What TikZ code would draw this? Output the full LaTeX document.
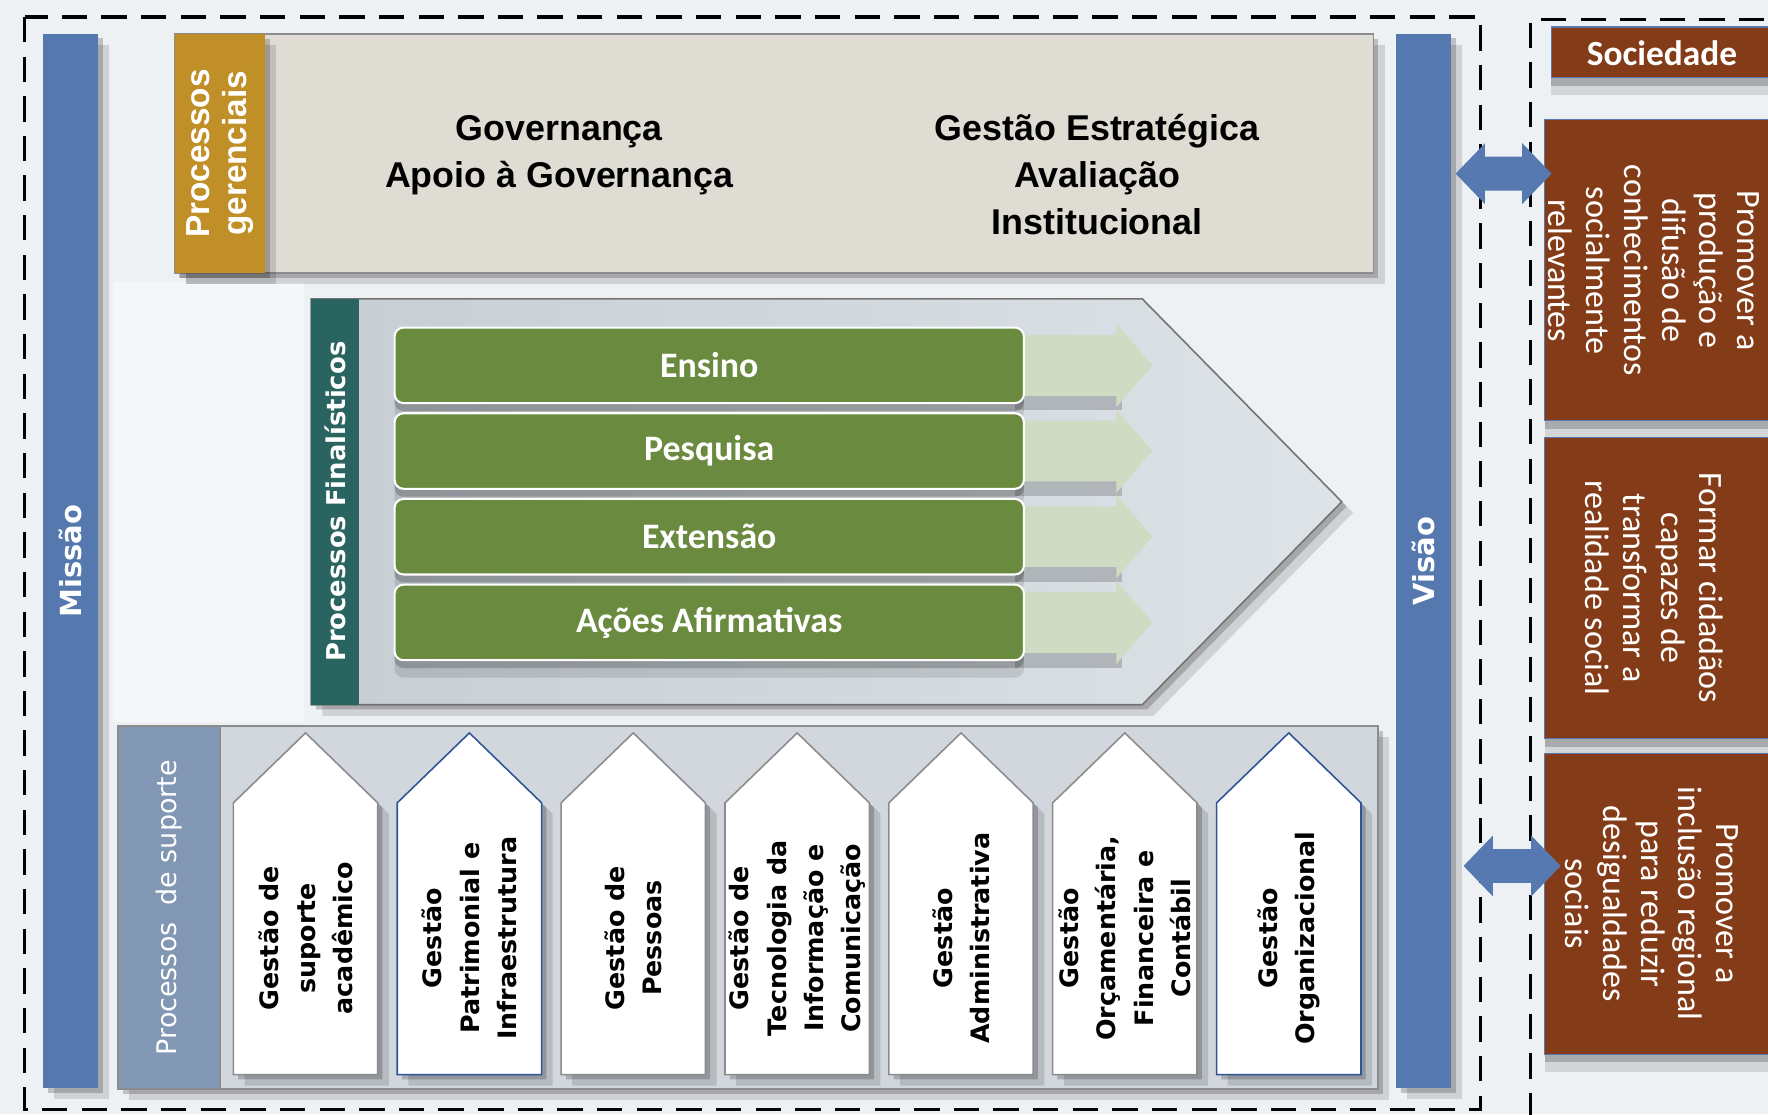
\documentclass[tikz,border=0pt]{standalone}
\usepackage{fontspec}
\setmainfont{Liberation Sans}
\newfontfamily\dvs{DejaVu Sans}
\newfontfamily\carl{Carlito}
\usetikzlibrary{shadows,calc}
\definecolor{bgc}{HTML}{EEF1F4}
\definecolor{mblue}{HTML}{5578AF}
\definecolor{goldc}{HTML}{C08F27}
\definecolor{topgray}{HTML}{DFDCD4}
\definecolor{tealc}{HTML}{2A6460}
\definecolor{grn}{HTML}{6A8A3F}
\definecolor{lgrn}{HTML}{D0DBC4}
\definecolor{supbg}{HTML}{D2D7DD}
\definecolor{suplab}{HTML}{8197B4}
\definecolor{brn}{HTML}{843B17}
\definecolor{arrblue}{HTML}{5579B0}
\definecolor{pentblue}{HTML}{2F5597}
\definecolor{edgegray}{HTML}{8C8C8C}
\definecolor{chevl}{HTML}{C6CED4}
\definecolor{chevr}{HTML}{DDE3E7}
\tikzset{
  rect/.style={rectangle, inner sep=0pt, outer sep=0pt},
  sh/.style={drop shadow={shadow xshift=3pt, shadow yshift=-3pt, fill=black, opacity=0.2},
             drop shadow={shadow xshift=7pt, shadow yshift=-7pt, fill=black, opacity=0.13}},
  shd/.style={drop shadow={shadow xshift=0pt, shadow yshift=-5pt, fill=black, opacity=0.2},
             drop shadow={shadow xshift=0pt, shadow yshift=-11pt, fill=black, opacity=0.11}},
  vlab/.style={rotate=90, text=white, align=center, inner sep=0pt},
  greenbar/.style={rectangle, rounded corners=0.2cm, fill=grn, draw=white, line width=1.3pt,
      minimum width=13.95cm, minimum height=1.675cm, text=white,
      font=\carl\bfseries\fontsize{22.6}{24}\selectfont},
  penttxt/.style={rotate=90, align=center, inner sep=0pt, font=\dvs\bfseries\fontsize{16}{23.4}\selectfont},
  brbox/.style={rect, fill=brn, draw=pentblue!80, line width=0.8pt, shd},
  brtxt/.style={rotate=-90, align=center, text=white, inner sep=0pt, font=\carl\fontsize{21.5}{23.8}\selectfont},
  dashline/.style={line width=2pt, dash pattern=on 16pt off 9pt}
}
\newcommand\pent[4]{%
  \draw[#3, fill=white, line width=1pt, sh] (#2,953) -- (#2,712) -- (#2+64,650) -- (#2+128,712) -- (#2+128,953) -- cycle;
  \node[penttxt] (#1) at (#2+64,832) {#4};}
\newcommand\darrow[3]{%
  \fill[arrblue] (#1,#3) -- (#1+26,#3-27) -- (#1+26,#3-15) -- (#2-26,#3-15) -- (#2-26,#3-27) -- (#2,#3)
     -- (#2-26,#3+27) -- (#2-26,#3+15) -- (#1+26,#3+15) -- (#1+26,#3+27) -- cycle;}
\begin{document}
\begin{tikzpicture}[x=0.025cm, y=-0.025cm]
\useasboundingbox (0,0) rectangle (1568,988);
\begin{scope}
\clip (0,0) rectangle (1568,988);
\fill[bgc] (0,0) rectangle (1568,988);
\fill[white, opacity=0.4] (100,250) rectangle (270,640);

% dashed frames
\draw[dashline] (22,15) rectangle (1313,984);
\draw[dashline] (1600,17) -- (1357,17) -- (1357,1000);

% Missao / Visao bars
\node[rect, fill=mblue, sh, minimum width=1.225cm, minimum height=23.375cm] (missao) at (62.5,497.5) {};
\node[vlab, font=\dvs\bfseries\fontsize{18.3}{20}\selectfont] (missaot) at (missao) {Missão};
\node[rect, fill=mblue, sh, minimum width=1.225cm, minimum height=23.375cm] (visao) at (1262.5,497.5) {};
\node[vlab, font=\dvs\bfseries\fontsize{18.3}{20}\selectfont] (visaot) at (visao) {Visão};

% management processes
\node[rect, fill=topgray, draw=edgegray, line width=1pt, sh, minimum width=26.575cm, minimum height=5.3cm] (gov) at (686.5,136) {};
\node[rect, fill=goldc, sh, minimum width=2cm, minimum height=5.3cm] (pg) at (195,136) {};
\node[vlab, font=\bfseries\fontsize{21}{23.4}\selectfont] (pgt) at (pg) {Processos\\gerenciais};
\node[align=center, inner sep=0pt, font=\bfseries\fontsize{22.6}{29.8}\selectfont] (govt) at (496,137.5) {Governança\\Apoio à Governança};
\node[align=center, inner sep=0pt, font=\bfseries\fontsize{22.6}{29.8}\selectfont] (estt) at (973,155) {Gestão Estratégica\\Avaliação\\Institucional};

% core processes chevron
\path[left color=chevl, right color=chevr, draw=gray!90!black, line width=1pt, sh]
  (276,265) -- (1013,265) -- (1190,445) -- (1013,625) -- (276,625) -- cycle;
\foreach \c in {324,400,476,552}{
  \fill[black, opacity=0.18] (900,\c+27) rectangle (995,\c+40);
  \fill[lgrn] (900,\c-27) -- (990,\c-27) -- (990,\c-37) -- (1022,\c) -- (990,\c+37) -- (990,\c+27) -- (900,\c+27) -- cycle;
}
\node[greenbar, shd] (ensino) at (629,324) {Ensino};
\node[greenbar, shd] (pesquisa) at (629,400) {Pesquisa};
\node[greenbar, shd] (extensao) at (629,476) {Extensão};
\node[greenbar, shd] (acoes) at (629,552) {Ações Afirmativas};
\node[rect, fill=tealc, minimum width=1.05cm, minimum height=9cm] (pf) at (297,445) {};
\node[vlab, font=\dvs\bfseries\fontsize{16.3}{18}\selectfont] (pft) at (pf) {Processos Finalísticos};

% support processes
\node[rect, fill=supbg, draw=edgegray, line width=1pt, sh, minimum width=27.925cm, minimum height=8.05cm] (sup) at (663.5,805) {};
\node[rect, fill=suplab, draw=edgegray, line width=1pt, minimum width=2.25cm, minimum height=8.05cm] (supl) at (150,805) {};
\node[vlab, font=\dvs\fontsize{17}{20}\selectfont] (suplt) at (supl) {Processos\ \ de suporte};
\pent{p1}{207}{edgegray}{Gestão de\\suporte\\acadêmico}
\pent{p2}{352.3}{pentblue}{Gestão\\Patrimonial e\\Infraestrutura}
\pent{p3}{497.6}{edgegray}{Gestão de\\Pessoas}
\pent{p4}{643}{edgegray}{Gestão de\\Tecnologia da\\Informação e\\Comunicação}
\pent{p5}{788.3}{edgegray}{Gestão\\Administrativa}
\pent{p6}{933.6}{edgegray}{Gestão\\Orçamentária,\\Financeira e\\Contábil}
\pent{p7}{1079}{pentblue}{Gestão\\Organizacional}

% society
\node[brbox, minimum width=5.6cm, minimum height=1.125cm] (soc) at (1488,46.5) {};
\node[text=white, inner sep=0pt, font=\carl\bfseries\fontsize{22.3}{24}\selectfont] (soct) at (1474,47) {Sociedade};
\node[brbox, minimum width=5.75cm, minimum height=6.675cm] (s1) at (1485,239.5) {};
\node[brtxt] (s1t) at (1467,240) {Promover a\\produção e\\difusão de\\conhecimentos\\socialmente\\relevantes};
\node[brbox, minimum width=5.75cm, minimum height=6.675cm] (s2) at (1485,521.5) {};
\node[brtxt] (s2t) at (1467,521.5) {Formar cidadãos\\capazes de\\transformar a\\realidade social};
\node[brbox, minimum width=5.75cm, minimum height=6.675cm] (s3) at (1485,801.5) {};
\node[brtxt] (s3t) at (1465,801.5) {Promover a\\inclusão regional\\para reduzir\\desigualdades\\sociais};

% double arrows between vision and society
\darrow{1291}{1376}{154}
\darrow{1298}{1384}{768}
\end{scope}
\end{tikzpicture}
\end{document}
